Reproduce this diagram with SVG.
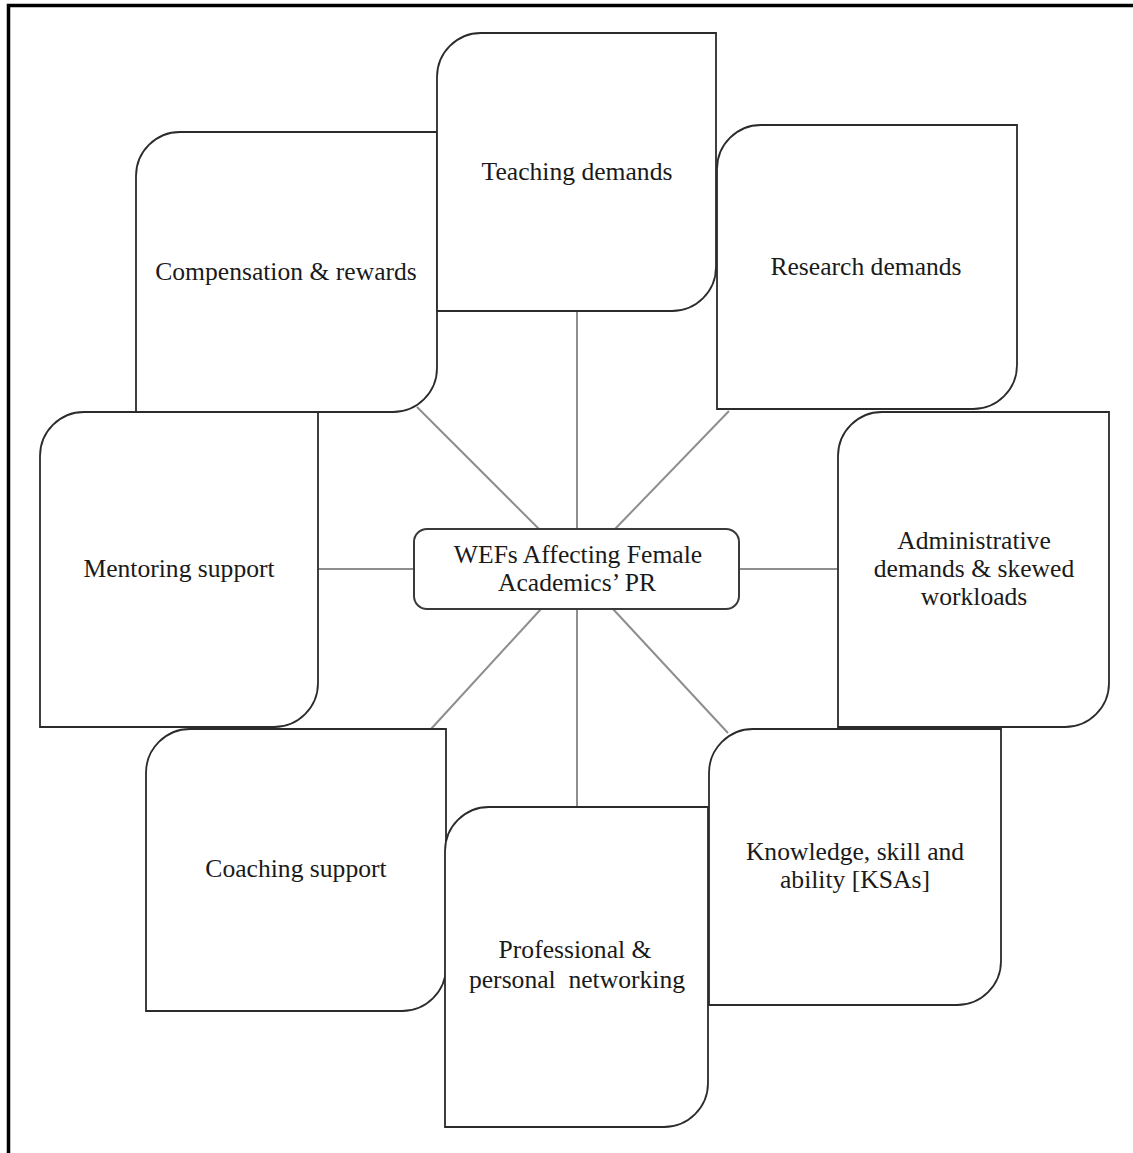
<svg xmlns="http://www.w3.org/2000/svg" width="1133" height="1153" viewBox="0 0 1133 1153">
  <style>
    .frame { stroke: #000; stroke-width: 3.5; fill: none; }
    .box { fill: #fff; stroke: #2b2b2b; stroke-width: 1.8; }
    .hub { fill: #fff; stroke: #3a3a3a; stroke-width: 2; }
    .link { stroke: #8e8e8e; stroke-width: 2; fill: none; }
    .lbl { font-family: "Liberation Serif", "Times New Roman", serif; font-size: 25.6px; fill: #1a1a1a; text-anchor: middle; }
  </style>

  <rect width="1133" height="1153" fill="#fff"/>

  <!-- outer frame (top and left edges) -->
  <path class="frame" d="M8.5,1153 V5.5 H1133"/>

  <!-- spokes from the central factor node -->
  <g id="connectors">
    <line class="link" x1="577" y1="311" x2="577" y2="529"/>
    <line class="link" x1="577" y1="609" x2="577" y2="807"/>
    <line class="link" x1="318" y1="569" x2="414" y2="569"/>
    <line class="link" x1="739" y1="569" x2="838" y2="569"/>
    <line class="link" x1="417" y1="407" x2="539" y2="529"/>
    <line class="link" x1="729" y1="411" x2="615" y2="529"/>
    <line class="link" x1="541" y1="609" x2="431" y2="729"/>
    <line class="link" x1="613" y1="609" x2="728" y2="733"/>
  </g>

  <!-- factor boxes: rounded top-left and bottom-right corners -->
  <g id="compensation">
    <path class="box" d="M180,132 H437 V368 A44,44 0 0 1 393,412 H136 V176 A44,44 0 0 1 180,132 Z"/>
    <text class="lbl" x="286" y="280">Compensation &amp; rewards</text>
  </g>

  <g id="teaching">
    <path class="box" d="M481,33 H716 V267 A44,44 0 0 1 672,311 H437 V77 A44,44 0 0 1 481,33 Z"/>
    <text class="lbl" x="577" y="180">Teaching demands</text>
  </g>

  <g id="research">
    <path class="box" d="M761,125 H1017 V365 A44,44 0 0 1 973,409 H717 V169 A44,44 0 0 1 761,125 Z"/>
    <text class="lbl" x="866" y="275">Research demands</text>
  </g>

  <g id="mentoring">
    <path class="box" d="M84,412 H318 V683 A44,44 0 0 1 274,727 H40 V456 A44,44 0 0 1 84,412 Z"/>
    <text class="lbl" x="179" y="577">Mentoring support</text>
  </g>

  <g id="administrative">
    <path class="box" d="M882,412 H1109 V683 A44,44 0 0 1 1065,727 H838 V456 A44,44 0 0 1 882,412 Z"/>
    <text class="lbl" x="974" y="549">Administrative</text>
    <text class="lbl" x="974" y="577">demands &amp; skewed</text>
    <text class="lbl" x="974" y="605">workloads</text>
  </g>

  <g id="coaching">
    <path class="box" d="M190,729 H446 V967 A44,44 0 0 1 402,1011 H146 V773 A44,44 0 0 1 190,729 Z"/>
    <text class="lbl" x="296" y="877">Coaching support</text>
  </g>

  <g id="knowledge">
    <path class="box" d="M753,729 H1001 V961 A44,44 0 0 1 957,1005 H709 V773 A44,44 0 0 1 753,729 Z"/>
    <text class="lbl" x="855" y="860">Knowledge, skill and</text>
    <text class="lbl" x="855" y="888">ability [KSAs]</text>
  </g>

  <g id="networking">
    <path class="box" d="M489,807 H708 V1083 A44,44 0 0 1 664,1127 H445 V851 A44,44 0 0 1 489,807 Z"/>
    <text class="lbl" x="575" y="958">Professional &amp;</text>
    <text class="lbl" x="577" y="988">personal&#160; networking</text>
  </g>

  <!-- central node -->
  <g id="wefs">
    <rect class="hub" x="414" y="529" width="325" height="80" rx="13" ry="13"/>
    <text class="lbl" x="578" y="563">WEFs Affecting Female</text>
    <text class="lbl" x="577" y="591">Academics’ PR</text>
  </g>
</svg>
